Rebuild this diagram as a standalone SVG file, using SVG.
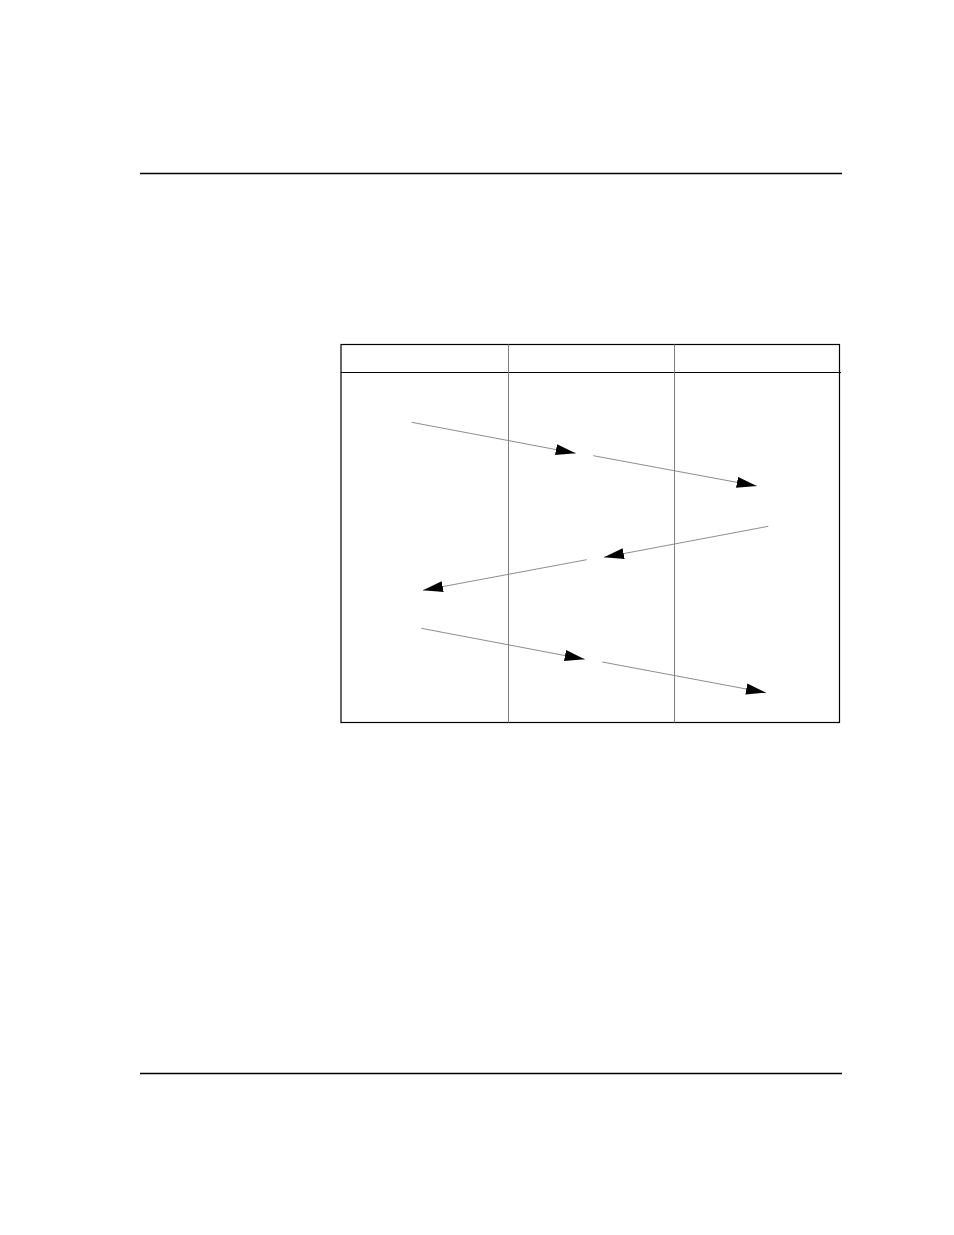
<svg xmlns="http://www.w3.org/2000/svg" width="954" height="1235" viewBox="0 0 954 1235">
<style>
.rule{stroke:#000;stroke-width:1.3;fill:none}
.frame{stroke:#000;stroke-width:1.2;fill:none}
.col{stroke:#808080;stroke-width:1;fill:none}
.msg{stroke:#808080;stroke-width:0.9;fill:none;marker-end:url(#ah)}
</style>
<defs>
<marker id="ah" markerUnits="userSpaceOnUse" markerWidth="20" markerHeight="12" viewBox="0 0 18 10" refX="18" refY="5" orient="auto">
<path d="M0,0 L18,5 L0,10 Z" fill="#000"/>
</marker>
</defs>
<rect width="954" height="1235" fill="#fff"/>
<line class="rule" x1="140" y1="173.5" x2="842" y2="173.5"/>
<line class="rule" x1="140" y1="1073.5" x2="842" y2="1073.5"/>
<g id="table">
<rect class="frame" x="341" y="344.5" width="498.5" height="378"/>
<line class="frame" x1="341" y1="372.5" x2="841" y2="372.5"/>
</g>
<g id="lane1"><line class="col" x1="508.5" y1="344.5" x2="508.5" y2="722.5"/></g>
<g id="lane2"><line class="col" x1="674.5" y1="344.5" x2="674.5" y2="722.5"/></g>
<g id="connectors">
<line class="msg" x1="411.7" y1="422.3" x2="575.7" y2="453.3"/>
<line class="msg" x1="593.3" y1="455.7" x2="756.7" y2="486"/>
<line class="msg" x1="768.3" y1="526.3" x2="604" y2="557.3"/>
<line class="msg" x1="586.7" y1="559.7" x2="423" y2="590.3"/>
<line class="msg" x1="421.3" y1="628.3" x2="584.7" y2="659.3"/>
<line class="msg" x1="602.3" y1="662" x2="766" y2="692.7"/>
</g>
</svg>
